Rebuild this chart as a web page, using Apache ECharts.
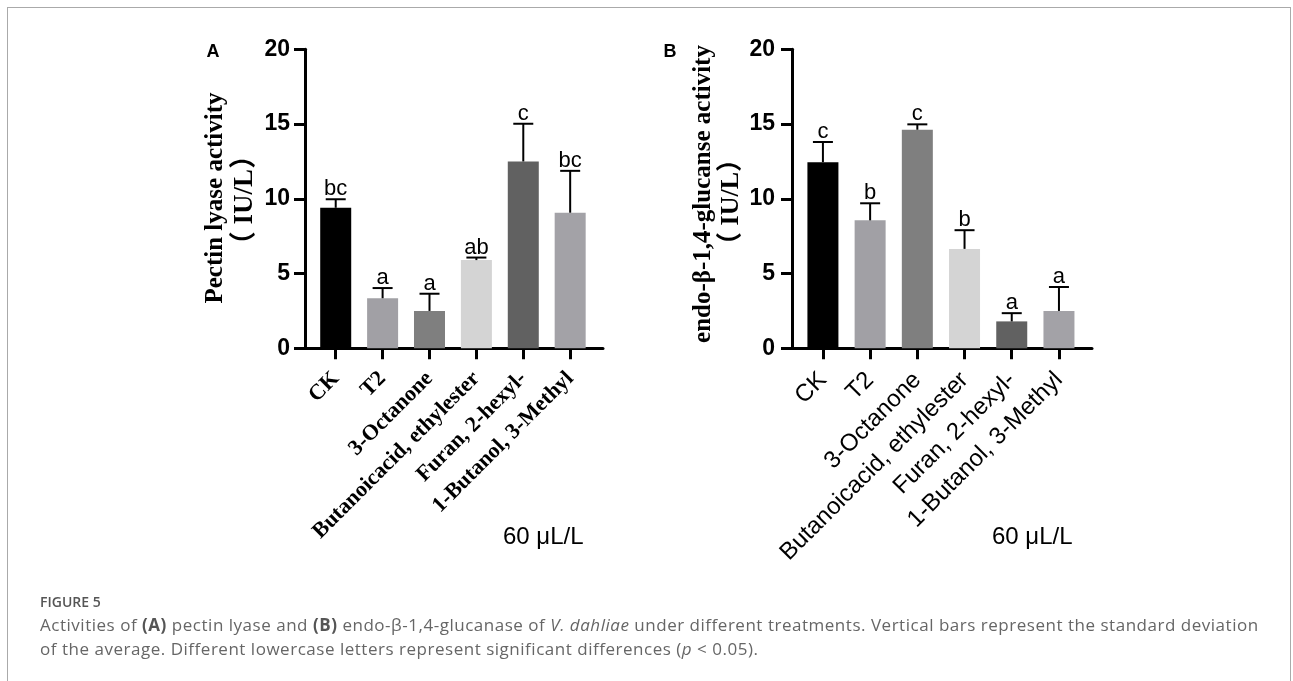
<!DOCTYPE html>
<html>
<head>
<meta charset="utf-8">
<script src="https://cdn.jsdelivr.net/npm/echarts@6/dist/echarts.min.js"></script>
<style>
  html, body { margin: 0; padding: 0; background: #fff; }
  #wrap { position: relative; width: 1293px; height: 681px; overflow: hidden; }
  #chart { position: absolute; left: 0; top: 0; width: 1293px; height: 681px; }
  #frame { position: absolute; left: 7px; top: 7px; width: 1282px; height: 720px;
           border: 1.5px solid #aaaaaa; border-bottom: none; pointer-events: none; }
  #cap { position: absolute; left: 40px; top: 592px; font-family: "Open Sans", sans-serif;
         color: #666; white-space: nowrap; }
  #cap .fig { font-size: 14px; font-weight: 600; color: #555; line-height: 20px; }
  #cap .txt { font-size: 17px; letter-spacing: 0.52px; line-height: 24px; margin-top: 1px; }
  #cap b { font-weight: 700; color: #555; }
</style>
</head>
<body>
<div id="wrap">
  <div id="chart"></div>
  <div id="frame"></div>
  <div id="cap">
    <div class="fig">FIGURE 5</div>
    <div class="txt">Activities of <b>(A)</b> pectin lyase and <b>(B)</b> endo-β-1,4-glucanase of <i>V. dahliae</i> under different treatments. Vertical bars represent the standard deviation<br>of the average. Different lowercase letters represent significant differences (<i>p</i> &lt; 0.05).</div>
  </div>
</div>
<script>
// ---- data ----
const categories = ['CK', 'T2', '3-Octanone', 'Butanoicacid, ethylester', 'Furan, 2-hexyl-', '1-Butanol, 3-Methyl'];
const pectinMean = [9.4, 3.35, 2.5, 5.9, 12.5, 9.07];
const pectinSD = [0.57, 0.68, 1.15, 0.17, 2.52, 2.8];
const pectinLetters = ['bc', 'a', 'a', 'ab', 'c', 'bc'];
const glucMean = [12.45, 8.56, 14.62, 6.65, 1.8, 2.5];
const glucSD = [1.35, 1.14, 0.36, 1.25, 0.55, 1.6];
const glucLetters = ['c', 'b', 'c', 'b', 'a', 'a'];
const barColors = ['#000000', '#a1a0a5', '#7f7f7f', '#d4d4d4', '#616161', '#a3a2a7'];
const yMin = 0, yMax = 20, yStep = 5;
const concLabel = '60 μL/L';

const chart = echarts.init(document.getElementById('chart'), null, { renderer: 'canvas' });
const catIdx = categories.map((c, i) => i);

function xAxisCfg(gi, labelFont) {
  return {
    type: 'value', gridIndex: gi, min: -0.655, max: 5.7,
    splitLine: { show: false },
    axisLine: { show: true, onZero: false, lineStyle: { color: '#000', width: 3 } },
    axisTick: { show: true, customValues: catIdx, length: 11, lineStyle: { color: '#000', width: 3 } },
    axisLabel: Object.assign({ customValues: catIdx, rotate: 45, color: '#000',
      formatter: v => categories[Math.round(v)] }, labelFont)
  };
}
function yAxisCfg(gi, margin) {
  return {
    type: 'value', gridIndex: gi, min: yMin, max: yMax, interval: yStep,
    splitLine: { show: false },
    axisLine: { show: true, onZero: false, lineStyle: { color: '#000', width: 3 } },
    axisTick: { show: true, length: 11, lineStyle: { color: '#000', width: 3 } },
    axisLabel: { margin: margin, color: '#000', fontFamily: 'Liberation Sans', fontWeight: 'bold', fontSize: 23 }
  };
}
function barSeries(gi, means) {
  return {
    type: 'bar', xAxisIndex: gi, yAxisIndex: gi, barWidth: 31, animation: false,
    data: means.map((v, i) => ({ value: [i, v], itemStyle: { color: barColors[i] } }))
  };
}
function errSeries(gi, means, sds, letters) {
  return {
    type: 'custom', xAxisIndex: gi, yAxisIndex: gi, animation: false, z: 5,
    data: means.map((v, i) => [i, v, sds[i]]),
    renderItem: function (params, api) {
      const x = api.value(0), m = api.value(1), sd = api.value(2);
      const b = api.coord([x, m]);
      const t = api.coord([x, m + sd]);
      return {
        type: 'group', children: [
          { type: 'line', shape: { x1: b[0], y1: b[1], x2: t[0], y2: t[1] }, style: { stroke: '#000', lineWidth: 2 } },
          { type: 'line', shape: { x1: t[0] - 10, y1: t[1], x2: t[0] + 10, y2: t[1] }, style: { stroke: '#000', lineWidth: 2 } },
          { type: 'text', x: t[0], y: t[1] + 1, style: { text: letters[params.dataIndex], fill: '#000',
            font: '22px "Liberation Sans"', textAlign: 'center', textVerticalAlign: 'bottom' } }
        ]
      };
    }
  };
}

const option = {
  backgroundColor: '#fff',
  animation: false,
  grid: [
    { left: 305, top: 49.3, width: 298, height: 299 },
    { left: 792, top: 49.3, width: 300, height: 299 }
  ],
  xAxis: [
    xAxisCfg(0, { fontFamily: 'Liberation Serif', fontWeight: 'bold', fontSize: 22, margin: 27 }),
    xAxisCfg(1, { fontFamily: 'Liberation Sans', fontWeight: 'normal', fontSize: 24, margin: 28 })
  ],
  yAxis: [yAxisCfg(0, 15), yAxisCfg(1, 17)],
  series: [
    barSeries(0, pectinMean), errSeries(0, pectinMean, pectinSD, pectinLetters),
    barSeries(1, glucMean), errSeries(1, glucMean, glucSD, glucLetters)
  ],
  graphic: [
    { type: 'text', x: 213, y: 52, style: { text: 'A', font: 'bold 18px "Liberation Sans"', fill: '#000', textAlign: 'center', textVerticalAlign: 'middle' } },
    { type: 'text', x: 670, y: 52, style: { text: 'B', font: 'bold 18px "Liberation Sans"', fill: '#000', textAlign: 'center', textVerticalAlign: 'middle' } },
    { type: 'text', x: 216, y: 198, rotation: Math.PI / 2, style: { text: 'Pectin lyase activity', font: 'bold 25px "Liberation Serif"', fill: '#000', textAlign: 'center', textVerticalAlign: 'middle' } },
    { type: 'text', x: 245, y: 200, rotation: Math.PI / 2, style: { text: '（ IU/L）', font: 'bold 27px "Liberation Serif", "Noto Sans CJK SC"', fill: '#000', textAlign: 'center', textVerticalAlign: 'middle' } },
    { type: 'text', x: 704, y: 194, rotation: Math.PI / 2, style: { text: 'endo-β-1,4-glucanse activity', font: 'bold 25px "Liberation Serif"', fill: '#000', textAlign: 'center', textVerticalAlign: 'middle' } },
    { type: 'text', x: 731, y: 202, rotation: Math.PI / 2, style: { text: '（ IU/L）', font: 'bold 26px "Liberation Serif", "Noto Sans CJK SC"', fill: '#000', textAlign: 'center', textVerticalAlign: 'middle' } },
    { type: 'text', x: 503, y: 537, style: { text: concLabel, font: '24px "Liberation Sans"', fill: '#000', textAlign: 'left', textVerticalAlign: 'middle' } },
    { type: 'text', x: 992, y: 537, style: { text: concLabel, font: '24px "Liberation Sans"', fill: '#000', textAlign: 'left', textVerticalAlign: 'middle' } }
  ]
};
chart.setOption(option);
</script>
</body>
</html>
